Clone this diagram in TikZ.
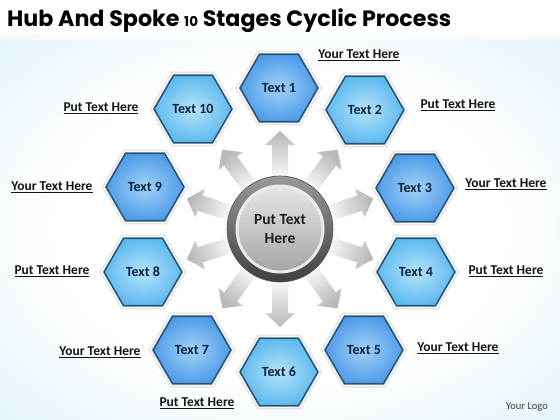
\documentclass[tikz,border=0pt]{standalone}
\usepackage{fontspec}
\setmainfont{Carlito}
\newfontfamily\titlefont{Poppins}
\usetikzlibrary{shapes.geometric}
\definecolor{hexedge}{RGB}{40,85,115}
\definecolor{hexAout}{RGB}{80,155,232}
\definecolor{hexAin}{RGB}{160,210,248}
\definecolor{hexBout}{RGB}{95,185,238}
\definecolor{hexBin}{RGB}{180,228,250}
\definecolor{bgblue}{RGB}{212,236,248}
\definecolor{labeltext}{RGB}{20,20,20}
\definecolor{hextext}{RGB}{15,35,60}
\pgfdeclareradialshading{bgshade}{\pgfpoint{0bp}{0bp}}{color(0bp)=(white); color(20bp)=(white); color(45bp)=(bgblue); color(50bp)=(bgblue)}
\tikzset{
  hexbase/.style={regular polygon, regular polygon sides=6, minimum size=78pt, inner sep=0pt,
    draw=hexedge, line width=1.6pt, shading=radial,
    preaction={draw=black!12, line width=7pt},
    preaction={draw=white, line width=4.5pt},
    font=\bfseries\fontsize{14}{16}\selectfont, text=hextext},
  hexA/.style={hexbase, inner color=hexAin, outer color=hexAout},
  hexB/.style={hexbase, inner color=hexBin, outer color=hexBout},
  lbl/.style={font=\bfseries\fontsize{13.5}{15}\selectfont, text=labeltext, inner sep=1pt},
  spoke/.style={draw=none, top color=black!28, bottom color=white}
}
\newcommand{\ul}[1]{\underline{#1}}
\begin{document}
\begin{tikzpicture}[x=1pt,y=-1pt]
\useasboundingbox (0,0) rectangle (560,420);
% background
\fill[white] (0,0) rectangle (560,36);
\shade[shading=bgshade] (0,36) rectangle (560,420);
\fill[white, opacity=0.6] (0,30) rectangle (560,40);
% title
\node[anchor=base west, inner sep=0pt, font=\titlefont\bfseries\fontsize{22.2}{24}\selectfont] (title) at (7,27)
  {Hub And Spoke {\fontsize{13.5}{14}\selectfont 10} Stages Cyclic Process};
% hub center coordinate
\coordinate (c) at (280,229);
% spokes
\foreach \k in {1,...,10}{
  \pgfmathsetmacro{\ang}{90-36*(\k-1)}
  \pgfmathsetmacro{\sang}{\ang-90}
  \begin{scope}[shift={(c)}, rotate=\ang]
    \path[spoke, shading angle=\sang] (46,-8) -- (84,-8) -- (84,-15) -- (98,0) -- (84,15) -- (84,8) -- (46,8) -- cycle;
  \end{scope}
}
% hub
\node[circle, minimum size=106pt, inner sep=0pt, draw=black!70, line width=0.6pt, top color=black!40, bottom color=black!75] (hubring) at (c) {};
\node[circle, minimum size=89pt, inner sep=0pt, fill=white!92!black] (hubgap) at (c) {};
\node[circle, minimum size=83pt, inner sep=0pt, top color=black!10, bottom color=black!35, align=center,
  font=\bfseries\fontsize{15.5}{19}\selectfont, text=black!88] (hub) at (c) {Put Text\\Here};
% hexagons
\node[hexA] (h1) at (279,88) {Text 1};
\node[hexB] (h2) at (365,110) {Text 2};
\node[hexA] (h3) at (415,188) {Text 3};
\node[hexB] (h4) at (416,272) {Text 4};
\node[hexA] (h5) at (364,350) {Text 5};
\node[hexB] (h6) at (279,372) {Text 6};
\node[hexA] (h7) at (192,350) {Text 7};
\node[hexB] (h8) at (143,272) {Text 8};
\node[hexA] (h9) at (145,187) {Text 9};
\node[hexB] (h10) at (193,109) {Text 10};
% labels
\node[lbl] (l1) at (359,55) {\ul{Your Text Here}};
\node[lbl] (l2) at (458,105) {\ul{Put Text Here}};
\node[lbl] (l3) at (506,184) {\ul{Your Text Here}};
\node[lbl] (l4) at (506,271) {\ul{Put Text Here}};
\node[lbl] (l5) at (458,348) {\ul{Your Text Here}};
\node[lbl] (l6) at (197,403) {\ul{Put Text Here}};
\node[lbl] (l7) at (100,352) {\ul{Your Text Here}};
\node[lbl] (l8) at (52,271) {\ul{Put Text Here}};
\node[lbl] (l9) at (52,187) {\ul{Your Text Here}};
\node[lbl] (l10) at (101,108) {\ul{Put Text Here}};
\node[font=\fontsize{10.5}{12}\selectfont, text=black!75] (logo) at (527,407) {Your Logo};
\end{tikzpicture}
\end{document}
